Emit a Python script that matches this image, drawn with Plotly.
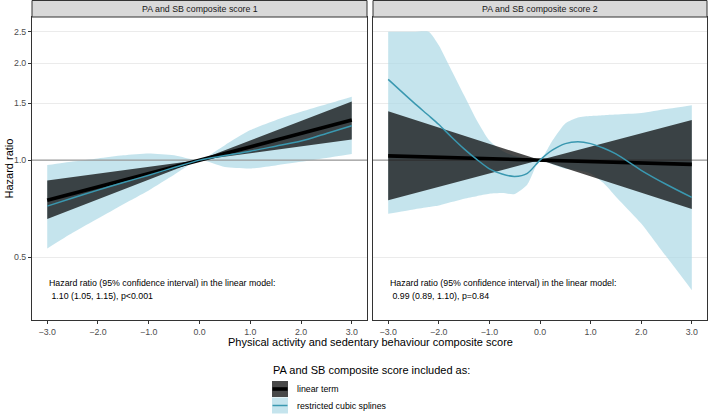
import numpy as np
import plotly.graph_objects as go

# ---------------- data ----------------
panel_titles = ["PA and SB composite score 1", "PA and SB composite score 2"]

# linear model (log-linear -> straight in log scale)
lin_x = [-3.0, 0.0, 3.0]
lin_hr_1 = [0.751, 1.0, 1.331]
lin_lo_1 = [0.657, 1.0, 1.158]
lin_hi_1 = [0.864, 1.0, 1.521]
lin_hr_2 = [1.031, 1.0, 0.970]
lin_lo_2 = [0.751, 1.0, 0.705]
lin_hi_2 = [1.419, 1.0, 1.331]

# restricted cubic splines, panel 1
rcs_x_1 = [-3.0, -2.5, -2.0, -1.5, -1.0, -0.5, 0.0, 0.5, 1.0, 1.5, 2.0, 2.5, 3.0]
rcs_hr_1 = [0.720, 0.763, 0.807, 0.852, 0.898, 0.948, 1.0, 1.033, 1.066, 1.105, 1.146, 1.210, 1.278]
rcs_hi_1 = [0.965, 0.990, 1.012, 1.035, 1.049, 1.035, 1.0, 1.113, 1.239, 1.330, 1.412, 1.490, 1.572]
rcs_lo_1 = [0.532, 0.595, 0.659, 0.730, 0.805, 0.900, 1.0, 0.952, 0.942, 0.963, 0.988, 1.015, 1.044]

# restricted cubic splines, panel 2
rcs_x_2 = [-3.0, -2.5, -2.2, -2.0, -1.75, -1.5, -1.25, -1.0, -0.75, -0.5, -0.25, 0.0,
           0.25, 0.5, 0.75, 1.0, 1.25, 1.5, 2.0, 2.5, 3.0]
rcs_hr_2 = [1.780, 1.510, 1.375, 1.290, 1.180, 1.084, 1.005, 0.940, 0.905, 0.890, 0.910, 1.0,
            1.075, 1.125, 1.140, 1.125, 1.090, 1.045, 0.930, 0.840, 0.766]
rcs_hi_2 = [2.50, 2.50, 2.50, 2.27, 1.90, 1.59, 1.33, 1.15, 1.07, 1.03, 1.01, 1.0,
            1.153, 1.30, 1.356, 1.370, 1.378, 1.385, 1.400, 1.440, 1.480]
rcs_lo_2 = [0.682, 0.703, 0.715, 0.723, 0.741, 0.759, 0.773, 0.786, 0.790, 0.785, 0.840, 1.0,
            0.970, 0.940, 0.930, 0.909, 0.850, 0.770, 0.636, 0.501, 0.395]

annot_line1 = "Hazard ratio (95% confidence interval) in the linear model:"
annot_line2 = ["\u00a01.10 (1.05, 1.15), p&lt;0.001", "\u00a00.99 (0.89, 1.10), p=0.84"]

x_ticks = [-3, -2, -1, 0, 1, 2, 3]
x_ticktext = ["\u22123.0", "\u22122.0", "\u22121.0", "0.0", "1.0", "2.0", "3.0"]
y_ticks = [0.5, 1.0, 1.5, 2.0, 2.5]
y_ticktext = ["0.5", "1.0", "1.5", "2.0", "2.5"]
ref_hr = 1.0
x_range = [-3.3, 3.3]

legend_title = "PA and SB composite score included as:"
legend_labels = ["linear term", "restricted cubic splines"]

# ---------------- style ----------------
W, H = 708, 420
LIGHT = "rgba(173,216,230,0.70)"
DARK = "rgba(10,10,10,0.74)"
BLUE = "#3A98B0"
FONT = "Liberation Sans, Arial, Helvetica, sans-serif"
SMALL = 8.8
BIG = 11

def px_x(p):
    return p / W

def px_y(p):
    return 1 - p / H

xdom = [[px_x(32), px_x(367)], [px_x(373), px_x(707)]]
ydom = [px_y(320), px_y(17)]

fig = go.Figure()

panels = [
    (lin_hr_1, lin_lo_1, lin_hi_1, rcs_x_1, rcs_hr_1, rcs_lo_1, rcs_hi_1),
    (lin_hr_2, lin_lo_2, lin_hi_2, rcs_x_2, rcs_hr_2, rcs_lo_2, rcs_hi_2),
]

for i, (lhr, llo, lhi, rx, rhr, rlo, rhi) in enumerate(panels):
    xa = "x" if i == 0 else "x2"
    ya = "y" if i == 0 else "y2"
    common = dict(xaxis=xa, yaxis=ya, showlegend=False, hoverinfo="skip")
    # spline CI band
    fig.add_trace(go.Scatter(x=rx, y=rlo, mode="lines", line=dict(width=0, shape="spline", smoothing=0.6), **common))
    fig.add_trace(go.Scatter(x=rx, y=rhi, mode="lines", line=dict(width=0, shape="spline", smoothing=0.6),
                             fill="tonexty", fillcolor=LIGHT, **common))
    # reference line
    fig.add_trace(go.Scatter(x=x_range, y=[ref_hr, ref_hr], mode="lines",
                             line=dict(color="#9A9A9A", width=1.4), **common))
    # linear CI band
    fig.add_trace(go.Scatter(x=lin_x, y=llo, mode="lines", line=dict(width=0), **common))
    fig.add_trace(go.Scatter(x=lin_x, y=lhi, mode="lines", line=dict(width=0),
                             fill="tonexty", fillcolor=DARK, **common))
    # linear line
    fig.add_trace(go.Scatter(x=lin_x, y=lhr, mode="lines", line=dict(color="black", width=3.6), **common))
    # spline line
    fig.add_trace(go.Scatter(x=rx, y=rhr, mode="lines", line=dict(color=BLUE, width=1.5, shape="spline", smoothing=0.8), **common))

yr = [np.log10(0.3191), np.log10(2.780)]

axis_common_x = dict(range=x_range, tickvals=x_ticks, ticktext=x_ticktext, ticks="outside",
                     ticklen=3, tickwidth=1, tickcolor="#333333", showgrid=False, zeroline=False,
                     showline=True, linecolor="#333333", linewidth=1, mirror=True, automargin=False,
                     tickfont=dict(size=SMALL, color="#4D4D4D", family=FONT))
axis_common_y = dict(type="log", range=yr, tickvals=y_ticks, showgrid=True, gridcolor="#EBEBEB",
                     gridwidth=1, zeroline=False, showline=True, linecolor="#333333", linewidth=1,
                     mirror=True, domain=ydom, automargin=False)

fig.update_layout(
    width=W, height=H,
    margin=dict(l=0, r=0, t=0, b=0),
    paper_bgcolor="white", plot_bgcolor="white",
    font=dict(family=FONT, color="black"),
    showlegend=False,
    xaxis=dict(domain=xdom[0], anchor="y", **axis_common_x),
    xaxis2=dict(domain=xdom[1], anchor="y2", **axis_common_x),
    yaxis=dict(anchor="x", ticktext=y_ticktext, ticks="outside", ticklen=3, tickwidth=1,
               tickcolor="#333333", tickfont=dict(size=SMALL, color="#4D4D4D", family=FONT), **axis_common_y),
    yaxis2=dict(anchor="x2", showticklabels=False, ticks="", **axis_common_y),
)

def ann(text, x, y, xref="paper", size=SMALL, color="black", xanchor="center", **kw):
    return dict(text=text, xref=xref, yref="paper", x=x, y=y, xanchor=xanchor, yanchor="middle",
                showarrow=False, font=dict(size=size, color=color, family=FONT), **kw)

shapes = []
annotations = []
for i in range(2):
    shapes.append(dict(type="rect", xref="paper", yref="paper", x0=xdom[i][0], x1=xdom[i][1],
                       y0=ydom[1], y1=px_y(0.5), fillcolor="#D9D9D9", line=dict(color="#333333", width=1)))
    annotations.append(ann(panel_titles[i], (xdom[i][0] + xdom[i][1]) / 2, px_y(8.7), color="#1A1A1A"))
    xa = "x" if i == 0 else "x2"
    annotations.append(ann(annot_line1, -3.0, px_y(282.7), xref=xa, xanchor="left"))
    annotations.append(ann(annot_line2[i], -3.0, px_y(295.7), xref=xa, xanchor="left"))

# axis titles
annotations.append(ann("Physical activity and sedentary behaviour composite score", px_x(370), px_y(342), size=BIG))
annotations.append(ann("Hazard ratio", px_x(8), px_y(168.5), size=BIG, textangle=-90))

# legend (manual)
annotations.append(ann(legend_title, px_x(271), px_y(370), size=BIG, xanchor="left"))
key_fills = [DARK, LIGHT]
key_lines = [("black", 3.6), (BLUE, 1.5)]
key_tops = [381, 397.5]
for k in range(2):
    t = key_tops[k]
    shapes.append(dict(type="rect", xref="paper", yref="paper", x0=px_x(272), x1=px_x(288),
                       y0=px_y(t + 16), y1=px_y(t), fillcolor=key_fills[k], line=dict(width=0)))
    shapes.append(dict(type="line", xref="paper", yref="paper", x0=px_x(272.5), x1=px_x(287.5),
                       y0=px_y(t + 8), y1=px_y(t + 8), line=dict(color=key_lines[k][0], width=key_lines[k][1])))
    annotations.append(ann(legend_labels[k], px_x(294.5), px_y(t + 8), xanchor="left"))

fig.update_layout(shapes=shapes, annotations=annotations)
fig.write_html("out.html", config={"displayModeBar": False},
               post_script="document.body.style.margin='0';document.body.style.overflow='hidden';")
